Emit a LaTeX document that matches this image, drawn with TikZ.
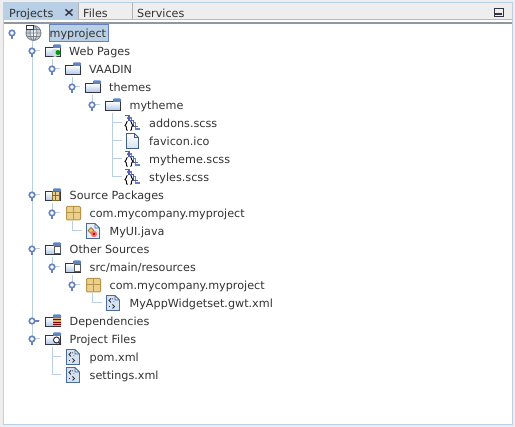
\documentclass[tikz,border=0pt]{standalone}
\usepackage{fontspec}
\setmainfont{DejaVu Sans}
\definecolor{bgc}{HTML}{EEEEEE}
\definecolor{paneb}{HTML}{B8CFE5}
\definecolor{treel}{HTML}{B8CFE5}
\definecolor{handle}{HTML}{6382BF}
\definecolor{txt}{HTML}{333333}
\definecolor{iconk}{HTML}{333344}
\definecolor{foldb}{HTML}{5F86C0}
\definecolor{foldf}{HTML}{A9C3E3}
\definecolor{pkg}{HTML}{EBCF8C}
\definecolor{pkgd}{HTML}{B8954A}
\definecolor{filef}{HTML}{D5E2F0}
\definecolor{scss}{HTML}{5A5FA8}
\tikzset{
  lbl/.style={anchor=west,inner sep=0pt,text=txt,font=\fontsize{11.2}{13}\selectfont,text height=12pt,text depth=2pt},
  tablbl/.style={lbl},
  tree/.style={draw=treel,line width=1pt},
  hnd/.style={circle,draw=handle,line width=1.6pt,fill=white,minimum size=5.5pt,inner sep=0pt},
  selbox/.style={draw=handle,fill=paneb,line width=0.8pt,anchor=west,inner sep=0pt,minimum height=17.5pt,minimum width=59pt},
}
\newcommand{\hndat}[3]{%
  \fill[handle] (#2-1,#3) rectangle (#2+1,#3+6.5);
  \node[hnd] (#1) at (#2,#3) {};}
\newcommand{\hndclosed}[3]{%
  \fill[handle] (#2,#3-1) rectangle (#2+6.5,#3+1);
  \node[hnd] (#1) at (#2,#3) {};}
\newcommand{\folder}[2]{%
  \begin{scope}[shift={(#1,#2)}]
    \shade[top color=white,bottom color=foldf] (0,-3.5) rectangle (16,6);
    \draw[iconk,line width=1pt] (0.5,-3.5) rectangle (15.5,6);
    \fill[foldb,rounded corners=0.8pt] (8,-6.5) rectangle (16,-3);
  \end{scope}}
\newcommand{\pkgicon}[2]{%
  \begin{scope}[shift={(#1,#2)}]
    \fill[pkg,rounded corners=1pt] (0,-6.5) rectangle (15,7);
    \draw[pkgd,line width=1pt,rounded corners=1pt] (0.5,-6.5) rectangle (14.5,7);
    \draw[pkgd,line width=1pt] (0.5,0) -- (14.5,0) (7.5,-6.5) -- (7.5,7);
  \end{scope}}
\newcommand{\sheet}[2]{%
  \begin{scope}[shift={(#1,#2)}]
    \shade[top color=white,bottom color=filef] (0.5,-7.5) -- (8.5,-7.5) -- (12.5,-3.5) -- (12.5,7.5) -- (0.5,7.5) -- cycle;
    \draw[foldb!70!black,line width=0.9pt] (0.5,-7.5) -- (8.5,-7.5) -- (12.5,-3.5) -- (12.5,7.5) -- (0.5,7.5) -- cycle (8.5,-7.5) -- (8.5,-3.5) -- (12.5,-3.5);
  \end{scope}}
\newcommand{\xmlicon}[2]{%
  \begin{scope}[shift={(#1,#2)}]
    \fill[filef] (0.5,-7.5) -- (9,-7.5) -- (13.5,-3) -- (13.5,7.5) -- (0.5,7.5) -- cycle;
    \draw[foldb!80!black,line width=0.9pt] (0.5,-7.5) -- (9,-7.5) -- (13.5,-3) -- (13.5,7.5) -- (0.5,7.5) -- cycle (9,-7.5) -- (9,-3) -- (13.5,-3);
    \draw[iconk,line width=0.8pt] (5,-4.5) -- (3,-2.5) -- (5,-0.5) (6.5,1.5) -- (8.5,3.5) -- (6.5,5.5);
    \draw[iconk,line width=0.8pt,dotted] (6.5,-4.5) -- (8,-1.5) (3,3.5) -- (5,3.5);
  \end{scope}}
\newcommand{\scssicon}[2]{%
  \begin{scope}[shift={(#1,#2)}]
    \draw[foldb,line width=1.8pt] (3,-5) -- (7.5,-5) -- (7.5,-0.5) -- (11.5,-0.5) -- (11.5,6) -- (15.5,6);
    \draw[scss,line width=1.8pt] (1,-7.5) -- (5,-7.5) -- (5,-2.5) -- (9,-2.5) -- (9,3.5) -- (14,3.5);
    \fill[white] (1,-1.5) rectangle (9,7.5);
    \draw[black,line width=0.9pt] (3.5,-1.5) .. controls (1.5,-1.5) and (3.5,2) .. (1,2.5) .. controls (3.5,3) and (1.5,7.5) .. (3.5,7.5);
    \draw[black,line width=0.9pt] (6.5,-1.5) .. controls (8.5,-1.5) and (6.5,2) .. (9,2.5) .. controls (6.5,3) and (8.5,7.5) .. (6.5,7.5);
  \end{scope}}
\newcommand{\javaicon}[2]{%
  \begin{scope}[shift={(#1,#2)}]
    \fill[filef!60!white] (0.5,-7.5) -- (9,-7.5) -- (13.5,-3) -- (13.5,7.5) -- (0.5,7.5) -- cycle;
    \draw[foldb!80!black,line width=0.9pt] (0.5,-7.5) -- (9,-7.5) -- (13.5,-3) -- (13.5,7.5) -- (0.5,7.5) -- cycle (9,-7.5) -- (9,-3) -- (13.5,-3);
    \fill[pkg!80!orange] (5,-3.5) -- (8,-0.5) -- (5,2.5) -- (2,-0.5) -- cycle;
    \draw[brown!70!black,line width=0.5pt] (5,-3.5) -- (8,-0.5) -- (5,2.5) -- (2,-0.5) -- cycle;
    \fill[red!55!white] (8,3) circle (3.2pt);
    \draw[red!60!black,line width=0.5pt] (6.8,1.8) -- (9.2,4.2) (6.8,4.2) -- (9.2,1.8);
  \end{scope}}
\begin{document}
\begin{tikzpicture}[x=1pt,y=-1pt]
\useasboundingbox (0,0) rectangle (515,427);
\fill[bgc] (0,0) rectangle (515,427);
\fill[white] (3.5,20) rectangle (512,424);
\fill[bgc] (4,3) rectangle (512,19);
\fill[paneb] (4,3) rectangle (78,20);
\fill[gray!55] (78,19) rectangle (512,20);
\fill[gray!70!paneb] (4,22.5) rectangle (512,24);
\draw[paneb,line width=1pt] (3.5,2.5) -- (3.5,424.5) -- (512,424.5) -- (512,2.5) -- cycle;
\fill[white!70!black] (78,3) rectangle (79,19);
\fill[gray!60] (132,3) rectangle (133,19);
\node[tablbl] (tabprojects) at (9,13) {Projects};
\draw[iconk,line width=1.4pt] (65.5,9.5) -- (72.5,15.5) (72.5,9.5) -- (65.5,15.5);
\node[tablbl] (tabfiles) at (83,13) {Files};
\node[tablbl] (tabservices) at (137,13) {Services};
\node[draw=iconk,line width=1pt,fill=bgc,minimum width=9pt,minimum height=8pt,inner sep=0pt] (minbtn) at (498.5,12.5) {};
\fill[iconk] (495,13) rectangle (502,15);
\draw[tree] (32,41) -- (32,339);
\draw[tree] (32,51) -- (40,51) (32,195) -- (40,195) (32,249) -- (40,249) (32,321) -- (40,321) (32,339) -- (40,339);
\draw[tree] (52,59) -- (52,69) -- (60,69);
\draw[tree] (72,77) -- (72,87) -- (80,87);
\draw[tree] (92,95) -- (92,105) -- (100,105);
\draw[tree] (112,113) -- (112,177) -- (122,177);
\draw[tree] (112,123) -- (122,123) (112,141) -- (122,141) (112,159) -- (122,159);
\draw[tree] (52,203) -- (52,213) -- (60,213);
\draw[tree] (72,221) -- (72,231) -- (82,231);
\draw[tree] (52,257) -- (52,267) -- (60,267);
\draw[tree] (72,275) -- (72,285) -- (80,285);
\draw[tree] (92,293) -- (92,303) -- (102,303);
\draw[tree] (52,347) -- (52,375) -- (61,375);
\draw[tree] (52,357) -- (61,357);
\hndat{h0}{12}{33}
\hndat{h1}{32}{51}
\hndat{h2}{52}{69}
\hndat{h3}{72}{87}
\hndat{h4}{92}{105}
\hndat{h5}{32}{195}
\hndat{h6}{52}{213}
\hndat{h7}{32}{249}
\hndat{h8}{52}{267}
\hndat{h9}{72}{285}
\hndclosed{h10}{32}{321}
\hndat{h11}{32}{339}
\begin{scope}[shift={(33.5,33)}]
  \shade[inner color=white,outer color=foldf] (0,0) circle (7.5pt);
  \draw[gray,line width=0.8pt] (0,0) circle (7.5pt) (-7.5,0) -- (7.5,0) (0,-7.5) -- (0,7.5) (0,0) ellipse (3.5pt and 7.5pt) (-6.5,-3.5) -- (6.5,-3.5) (-6.5,3.5) -- (6.5,3.5);
  \draw[iconk,line width=0.7pt,fill=white] (-7,-7.5) rectangle (0,-3.5);
\end{scope}
\folder{45}{51}
\fill[foldb!30] (55,53) circle (4pt);
\fill[green!60!black] (58,52.5) circle (2.5pt);
\folder{65}{69}
\folder{85}{87}
\folder{105}{105}
\scssicon{124}{123}
\sheet{126}{141}
\scssicon{124}{159}
\scssicon{124}{177}
\folder{45}{195}
\fill[pkg] (52,191.5) rectangle (59.5,200);
\draw[pkgd!70!black,line width=0.7pt] (52,191.5) rectangle (59.5,200) (52,195.5) -- (59.5,195.5) (55.7,191.5) -- (55.7,200);
\pkgicon{66}{213}
\javaicon{86}{231}
\folder{45}{249}
\fill[white] (54,246) rectangle (60,253);
\draw[gray!70!black,line width=0.7pt] (54,246) rectangle (60,253);
\folder{65}{267}
\fill[white] (74,264) rectangle (80,271);
\draw[gray!70!black,line width=0.7pt] (74,264) rectangle (80,271);
\pkgicon{86}{285}
\xmlicon{106}{303}
\folder{45}{321}
\fill[pkg!60!brown] (53,318) rectangle (61,326);
\draw[red!50!black,line width=0.7pt] (53,319.5) -- (61,319.5) (53,322) -- (61,322) (53,324.5) -- (61,324.5);
\folder{45}{339}
\draw[iconk,line width=1pt,fill=white] (56.5,340) circle (3pt);
\draw[iconk,line width=1.3pt] (58.5,342) -- (61,344.5);
\xmlicon{66}{357}
\xmlicon{66}{375}
\node[selbox] (rootbox) at (48.5,33) {};
\node[lbl] (n0) at (49.5,33) {myproject};
\node[lbl] (n1) at (69,51) {Web Pages};
\node[lbl] (n2) at (89,69) {VAADIN};
\node[lbl] (n3) at (109,87) {themes};
\node[lbl] (n4) at (129.5,105) {mytheme};
\node[lbl] (n5) at (149,123) {addons.scss};
\node[lbl] (n6) at (149,141) {favicon.ico};
\node[lbl] (n7) at (149,159) {mytheme.scss};
\node[lbl] (n8) at (149,177) {styles.scss};
\node[lbl] (n9) at (69.5,195) {Source Packages};
\node[lbl] (n10) at (89.5,213) {com.mycompany.myproject};
\node[lbl] (n11) at (109.5,231) {MyUI.java};
\node[lbl] (n12) at (69.5,249) {Other Sources};
\node[lbl] (n13) at (89.5,267) {src/main/resources};
\node[lbl] (n14) at (109.5,285) {com.mycompany.myproject};
\node[lbl] (n15) at (129.5,303) {MyAppWidgetset.gwt.xml};
\node[lbl] (n16) at (69.5,321) {Dependencies};
\node[lbl] (n17) at (69.5,339) {Project Files};
\node[lbl] (n18) at (89.5,357) {pom.xml};
\node[lbl] (n19) at (89.5,375) {settings.xml};
\end{tikzpicture}
\end{document}
